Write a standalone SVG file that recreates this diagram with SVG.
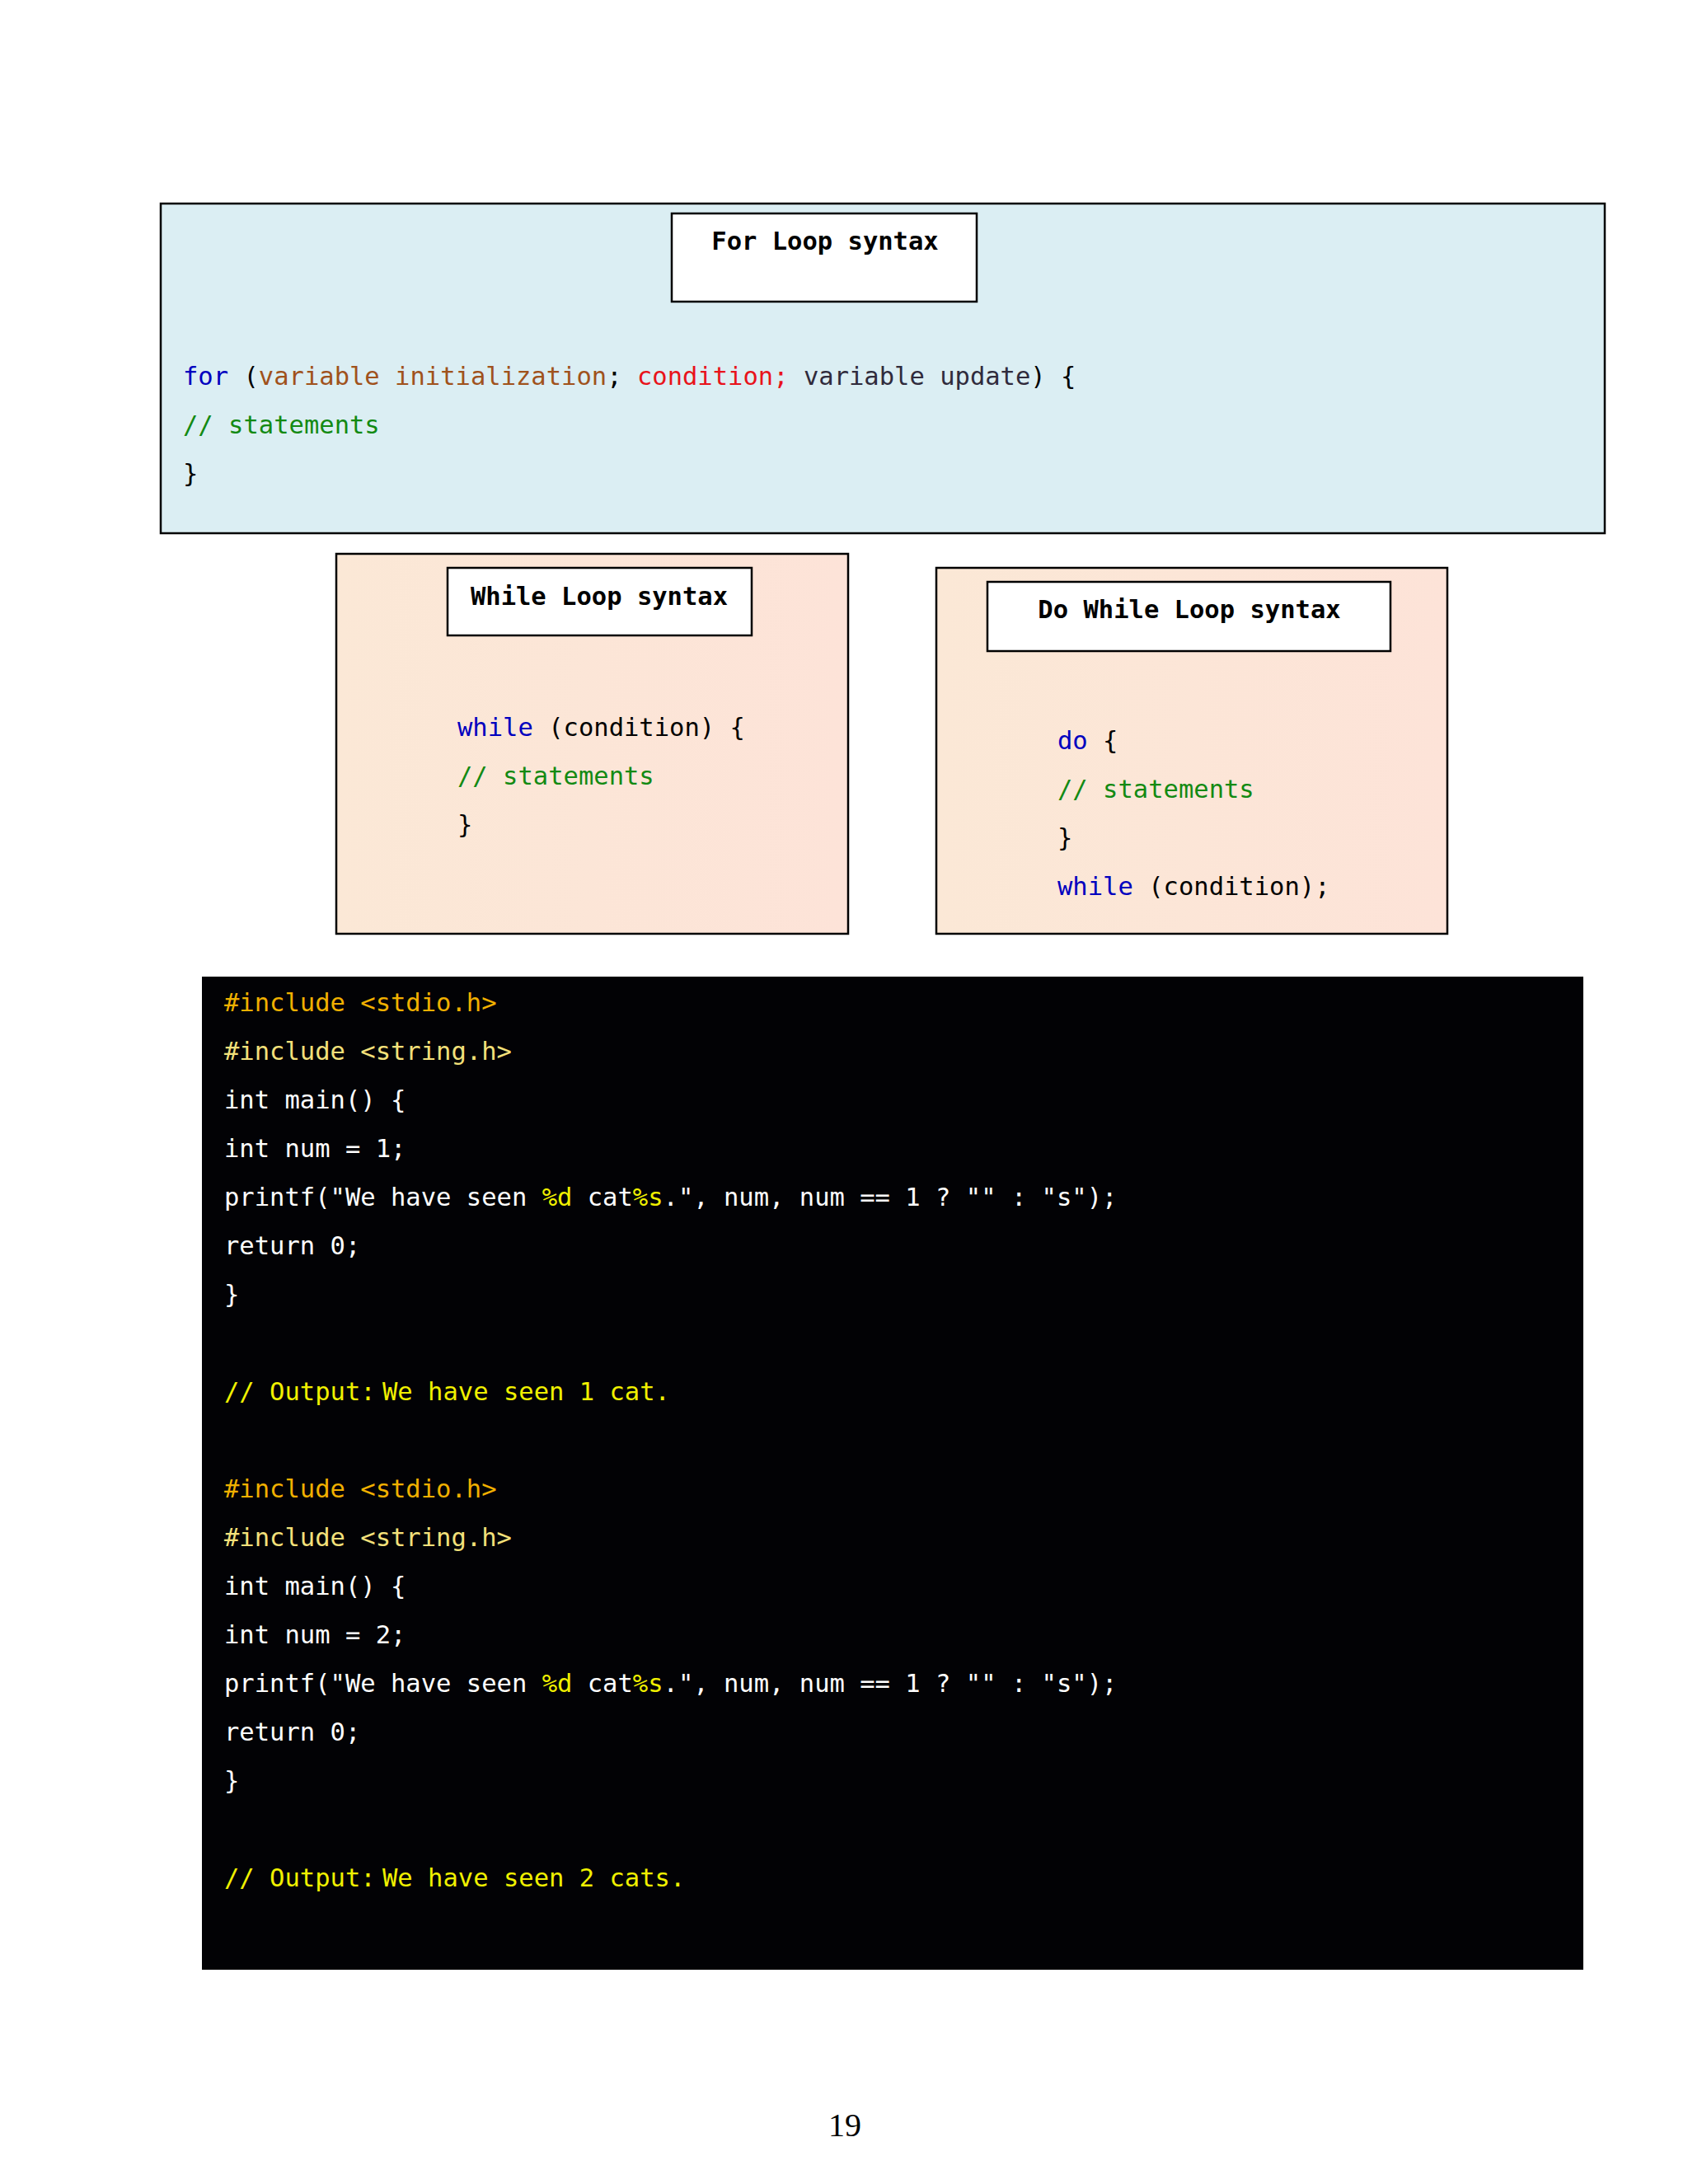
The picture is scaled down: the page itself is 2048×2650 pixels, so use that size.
<svg xmlns="http://www.w3.org/2000/svg" width="2048" height="2650" viewBox="0 0 2048 2650">
<style>
.code{font-family:"DejaVu Sans Mono","Liberation Mono",monospace;font-size:30.5px;white-space:pre}
.title{font-family:"DejaVu Sans Mono","Liberation Mono",monospace;font-size:30.5px;font-weight:bold;fill:#000;text-anchor:middle}
.frame{stroke:#000;stroke-width:2.5}
.tbox{fill:#fff;stroke:#000;stroke-width:2.5}
.kw{fill:#0000BF}
.br{fill:#A0521C}
.rd{fill:#E8131B}
.gy{fill:#302B3C}
.gr{fill:#138A13}
.bk{fill:#000}
.wh{fill:#fff}
.inc1{fill:#F0B000}
.inc2{fill:#F3E07A}
.yl{fill:#F0F000}
</style>
<defs>
<linearGradient id="peach" x1="0" y1="0" x2="1" y2="0">
<stop offset="0" stop-color="#FBE8D6"/>
<stop offset="1" stop-color="#FDE3D8"/>
</linearGradient>
</defs>
<rect x="0" y="0" width="2048" height="2650" fill="#fff"/>

<g id="for-loop">
<rect class="frame" x="195" y="247" width="1752" height="400" fill="#DBEEF3"/>
<rect class="tbox" x="815" y="259" width="370" height="107"/>
<text class="title" x="1001" y="303">For Loop syntax</text>
<text class="code" x="222" y="467" xml:space="preserve"><tspan class="kw">for</tspan><tspan class="bk"> (</tspan><tspan class="br">variable initialization</tspan><tspan class="bk">; </tspan><tspan class="rd">condition;</tspan><tspan class="gy"> variable update</tspan><tspan class="bk">) {</tspan></text>
<text class="code gr" x="222" y="526">// statements</text>
<text class="code bk" x="222" y="585">}</text>
</g>

<g id="while-loop">
<rect class="frame" x="408" y="672" width="621" height="461" fill="url(#peach)"/>
<rect class="tbox" x="543" y="689" width="369" height="82"/>
<text class="title" x="727" y="734">While Loop syntax</text>
<text class="code" x="555" y="893" xml:space="preserve"><tspan class="kw">while</tspan><tspan class="bk"> (condition) {</tspan></text>
<text class="code gr" x="555" y="952">// statements</text>
<text class="code bk" x="555" y="1011">}</text>
</g>

<g id="do-while-loop">
<rect class="frame" x="1136" y="689" width="620" height="444" fill="url(#peach)"/>
<rect class="tbox" x="1198" y="706" width="489" height="84"/>
<text class="title" x="1443" y="750">Do While Loop syntax</text>
<text class="code" x="1283" y="909" xml:space="preserve"><tspan class="kw">do</tspan><tspan class="bk"> {</tspan></text>
<text class="code gr" x="1283" y="968">// statements</text>
<text class="code bk" x="1283" y="1027">}</text>
<text class="code" x="1283" y="1086" xml:space="preserve"><tspan class="kw">while</tspan><tspan class="bk"> (condition);</tspan></text>
</g>

<g id="code-example">
<rect x="245" y="1185" width="1676" height="1205" fill="#020205"/>
<text class="code inc1" x="272" y="1227">#include &lt;stdio.h&gt;</text>
<text class="code inc2" x="272" y="1286">#include &lt;string.h&gt;</text>
<text class="code wh" x="272" y="1345">int main() {</text>
<text class="code wh" x="272" y="1404">int num = 1;</text>
<text class="code wh" x="272" y="1463" xml:space="preserve">printf("We have seen <tspan class="yl">%d</tspan> cat<tspan class="yl">%s</tspan>.", num, num == 1 ? "" : "s");</text>
<text class="code wh" x="272" y="1522">return 0;</text>
<text class="code wh" x="272" y="1581">}</text>
<text class="code yl" x="272" y="1699" xml:space="preserve">// Output:<tspan x="464">We have seen 1 cat.</tspan></text>

<text class="code inc1" x="272" y="1817">#include &lt;stdio.h&gt;</text>
<text class="code inc2" x="272" y="1876">#include &lt;string.h&gt;</text>
<text class="code wh" x="272" y="1935">int main() {</text>
<text class="code wh" x="272" y="1994">int num = 2;</text>
<text class="code wh" x="272" y="2053" xml:space="preserve">printf("We have seen <tspan class="yl">%d</tspan> cat<tspan class="yl">%s</tspan>.", num, num == 1 ? "" : "s");</text>
<text class="code wh" x="272" y="2112">return 0;</text>
<text class="code wh" x="272" y="2171">}</text>
<text class="code yl" x="272" y="2289" xml:space="preserve">// Output:<tspan x="464">We have seen 2 cats.</tspan></text>
</g>

<text id="page-number" x="1025" y="2592" font-family="'Liberation Serif',serif" font-size="40" text-anchor="middle" fill="#000">19</text>
</svg>
